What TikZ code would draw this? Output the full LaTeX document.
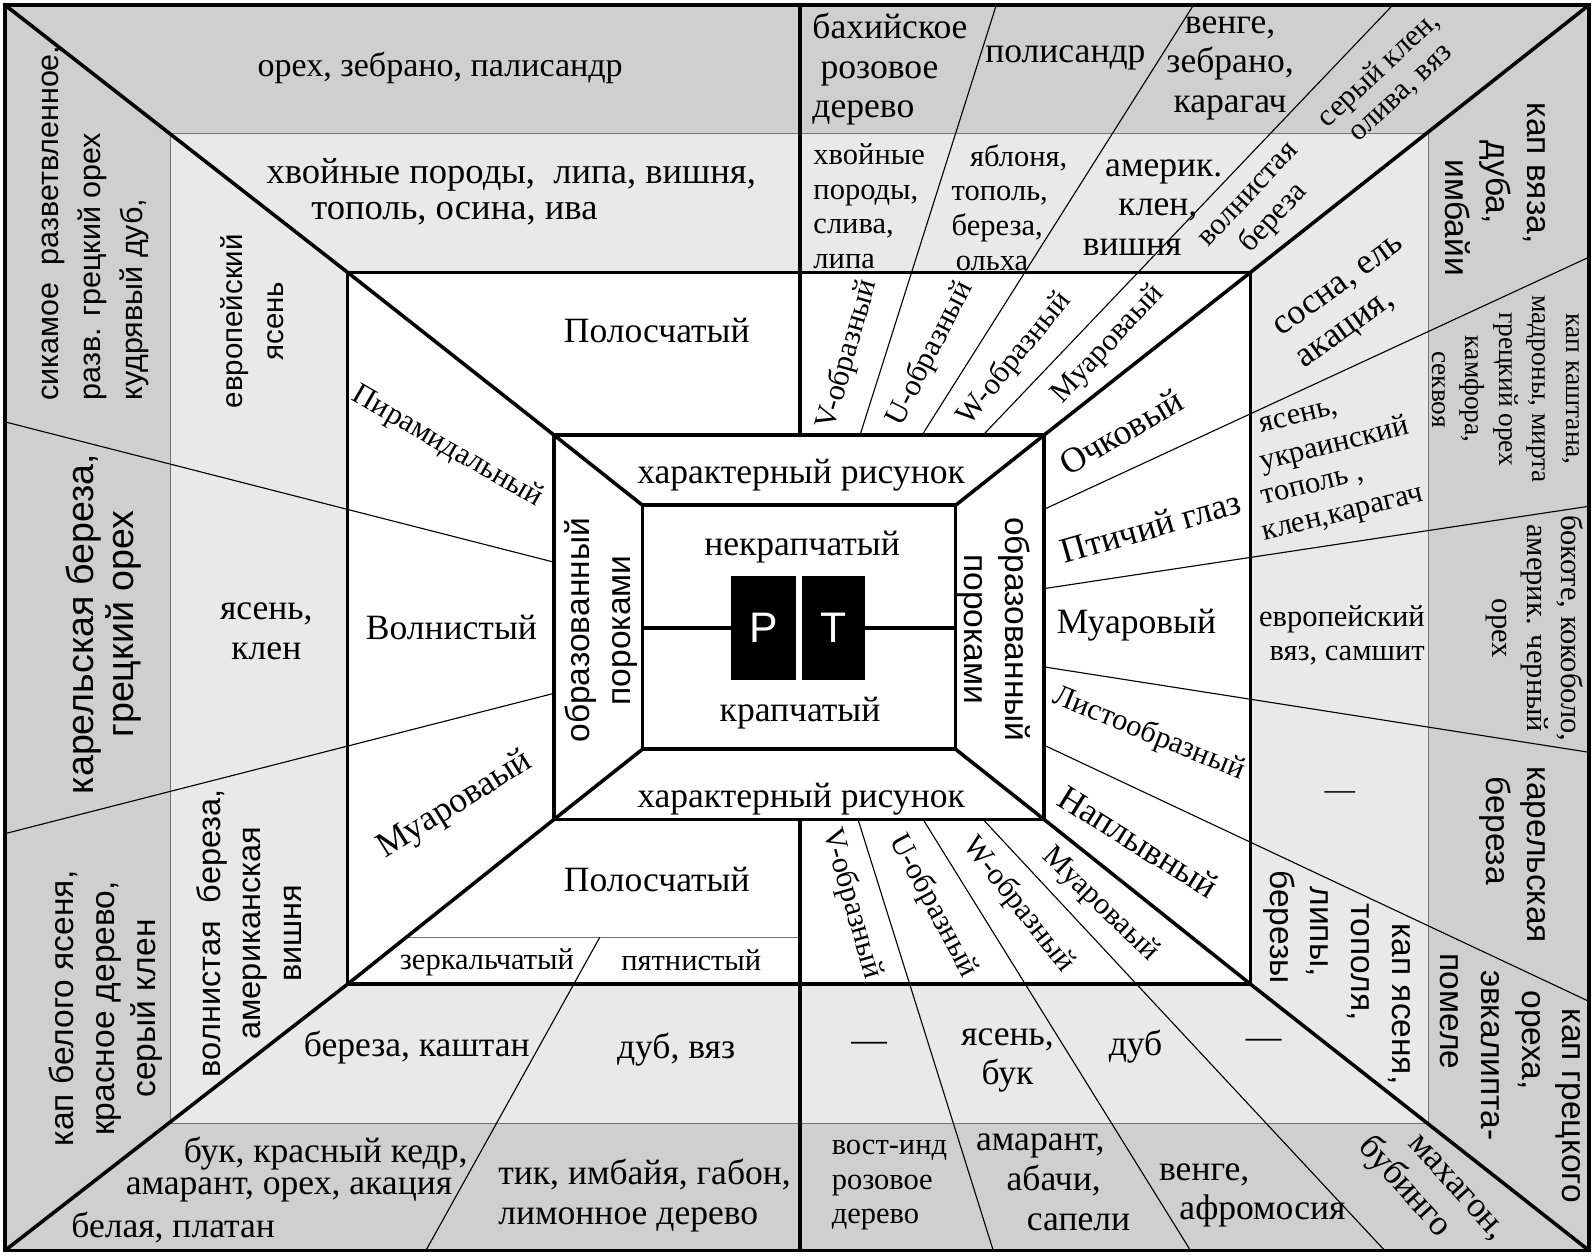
\documentclass[tikz,border=0pt]{standalone}
\usepackage{fontspec}
\setmainfont{Liberation Serif}
\newfontfamily\sansfnt{Liberation Sans}
\newcommand\fntB{\fontsize{35}{39}\selectfont}
\newcommand\fntM{\fontsize{30}{34}\selectfont}
\newcommand\fntS{\fontsize{27}{33}\selectfont}
\newcommand\fntSans{\sansfnt\fontsize{33}{40}\selectfont}
\newcommand\fntPT{\sansfnt\fontsize{42}{44}\selectfont}
\definecolor{bandDark}{RGB}{207,207,207}
\definecolor{bandLight}{RGB}{233,233,233}
\tikzset{
  heavy/.style={line width=3.5pt, line join=miter},
  fine/.style={line width=1.1pt},
  bandline/.style={line width=1.3pt, draw=black!55},
  lbl/.style={inner sep=0pt, align=center},
  ptbox/.style={fill=black, inner sep=0pt, minimum height=102pt, text=white, font=\fntPT}
}
\begin{document}
\begin{tikzpicture}[x=1pt,y=-1pt]
\useasboundingbox (0,0) rectangle (1568,1235);
% corners
\coordinate (O1) at (5,5);      \coordinate (O2) at (1563,5);
\coordinate (O3) at (1563,1230); \coordinate (O4) at (5,1230);
\coordinate (B1) at (168,131);  \coordinate (B2) at (1405,131);
\coordinate (B3) at (1405,1105); \coordinate (B4) at (168,1105);
\coordinate (M1) at (342,268);  \coordinate (M2) at (1230,268);
\coordinate (M3) at (1230,968); \coordinate (M4) at (342,968);
\coordinate (I1) at (545,428);  \coordinate (I2) at (1027,428);
\coordinate (I3) at (1027,806); \coordinate (I4) at (545,806);
\coordinate (C1) at (632,497);  \coordinate (C2) at (940,497);
\coordinate (C3) at (940,737);  \coordinate (C4) at (632,737);
% fills
\fill[bandDark] (O1) rectangle (O3);
\fill[bandLight] (B1) rectangle (B3);
\fill[white] (M1) rectangle (M3);
% band lines
\draw[bandline] (B1) -- (B2) -- (B3) -- (B4) -- cycle;
% fan lines top
\draw[fine] (846,428) -- (980,5);
\draw[fine] (907,428) -- (1174,5);
\draw[fine] (967,428) -- (1370,5);
% fan lines bottom
\draw[fine] (844,806) -- (977,1230);
\draw[fine] (908,806) -- (1171,1230);
\draw[fine] (967,806) -- (1362,1230);
% fan lines left
\draw[fine] (5,415) -- (545,553);
\draw[fine] (5,820) -- (545,682);
% fan lines right
\draw[fine] (1027,501) -- (1563,253);
\draw[fine] (1027,579) -- (1563,498);
\draw[fine] (1027,656) -- (1563,740);
\draw[fine] (1027,733) -- (1563,985);
% bottom-left small split
\draw[bandline] (400,922) -- (787,922);
\draw[fine] (590,922) -- (419,1230);

% ---------- texts ----------
% top outer band
\node[lbl,font={\fontsize{33.5}{39}\selectfont}] (t1) at (433,67) {орех, зебрано, палисандр};
\node[lbl,font=\fntB,align=left,anchor=west] (t2) at (799,68) {бахийское\\\hspace*{8pt}розовое\\дерево};
\node[lbl,font=\fntB] (t3) at (1048,57) {полисандр};
\node[lbl,font=\fntB] (t4) at (1210,67) {венге,\\зебрано,\\карагач};
\node[lbl,font={\fontsize{30}{31}\selectfont},rotate=43] (t5) at (1367,80) {серый клен,\\олива, вяз};
% top light band
\node[lbl,font={\fontsize{36}{40}\selectfont},anchor=west] (t6) at (262,172) {хвойные породы,\ \ липа, вишня,};
\node[lbl,font={\fontsize{36}{40}\selectfont},anchor=west] (t6b) at (306,210) {тополь, осина, ива};
\node[lbl,font=\fntM,align=left,anchor=west] (t7) at (800,203) {хвойные\\породы,\\слива,\\липа};
\node[lbl,font=\fntM,align=left,anchor=west] (t8) at (936,204) {\hspace*{18pt}яблоня,\\тополь,\\береза,\\\hspace*{4pt}ольха};
\node[lbl,font=\fntB,align=left,anchor=west] (t9) at (1065,204) {\hspace*{22pt}америк.\\\hspace*{35pt}клен,\\вишня};
\node[lbl,font=\fntM,rotate=47] (t10) at (1243,205) {волнистая\\береза};
% left bands
\node[lbl,font={\sansfnt\fontsize{30}{41}\selectfont},rotate=90,anchor=west,align=left] (l1) at (94,394) {сикамое\ \ разветвленное,\\разв. грецкий орех\\кудрявый дуб,};
\node[lbl,font={\sansfnt\fontsize{37}{40}\selectfont},rotate=90] (l2) at (102,614) {карельская береза,\\грецкий орех};
\node[lbl,font=\fntSans,rotate=90] (l3) at (104,992) {кап белого ясеня,\\красное дерево,\\серый клен};
\node[lbl,font={\sansfnt\fontsize{29}{40}\selectfont},rotate=90] (l4) at (248,316) {европейский\\ясень};
\node[lbl,font=\fntB] (l5) at (262,621) {ясень,\\клен};
\node[lbl,font={\sansfnt\fontsize{32}{40}\selectfont},rotate=90] (l6) at (245,918) {волнистая\ \ береза,\\американская\\вишня};
% middle rect
\node[lbl,font=\fntB] (m1) at (646,325) {Полосчатый};
\node[lbl,font=\fntM,rotate=-30] (m2) at (440,440) {Пирамидальный};
\node[lbl,font=\fntB] (m3) at (444,617) {Волнистый};
\node[lbl,font=\fntB,rotate=32] (m4) at (448,792) {Муароваый};
\node[lbl,font=\fntB] (m5) at (646,865) {Полосчатый};
\node[lbl,font=\fntM] (m6) at (479,947) {зеркальчатый};
\node[lbl,font=\fntM] (m7) at (680,945) {пятнистый};
\node[lbl,font=\fntM,rotate=74] (m8) at (834,349) {V-образный};
\node[lbl,font=\fntM,rotate=63] (m9) at (915,348) {U-образный};
\node[lbl,font=\fntM,rotate=51] (m10) at (998,353) {W-образный};
\node[lbl,font=\fntM,rotate=47] (m11) at (1090,339) {Муароваый};
\node[lbl,font=\fntB,rotate=30] (m12) at (1103,425) {Очковый};
\node[lbl,font=\fntB,rotate=16] (m13) at (1132,518) {Птичий глаз};
\node[lbl,font=\fntB] (m14) at (1118,615) {Муаровый};
\node[lbl,font=\fntM,rotate=-22] (m15) at (1130,722) {Листообразный};
\node[lbl,font=\fntB,rotate=-32] (m16) at (1120,828) {Наплывный};
\node[lbl,font=\fntM,rotate=-74] (m17) at (838,889) {V-образный};
\node[lbl,font=\fntM,rotate=-62] (m18) at (918,891) {U-образный};
\node[lbl,font=\fntM,rotate=-52] (m19) at (1002,890) {W-образный};
\node[lbl,font=\fntM,rotate=-44] (m20) at (1082,890) {Муароваый};
% inner rect
\node[lbl,font=\fntB] (i1) at (788,467) {характерный рисунок};
\node[lbl,font=\fntB] (i2) at (788,786) {характерный рисунок};
\node[lbl,font=\fntSans,rotate=90] (i3) at (591,620) {образованный\\пороками};
\node[lbl,font=\fntSans,rotate=-90] (i4) at (978,619) {образованный\\пороками};
\node[lbl,font=\fntB] (c1) at (789,538) {некрапчатый};
\node[lbl,font=\fntB] (c2) at (787,701) {крапчатый};
\node[ptbox,minimum width=64pt] (P) at (751,618) {Р};
\node[ptbox,minimum width=62pt] (T) at (820,618) {Т};
% right light band
\node[lbl,font=\fntB,rotate=36,align=left] (r1) at (1330,299) {сосна, ель\\акация,};
\node[lbl,font=\fntM,rotate=14,anchor=west] (r2a) at (1240,421) {ясень,};
\node[lbl,font=\fntM,rotate=14,anchor=west] (r2b) at (1240,456) {украинский};
\node[lbl,font=\fntM,rotate=14,anchor=west] (r2c) at (1242,492) {тополь ,};
\node[lbl,font=\fntM,rotate=14,anchor=west] (r2d) at (1243,528) {клен,карагач};
\node[lbl,font=\fntM,align=right] (r3) at (1320,625) {европейский\\вяз, самшит};
\node[lbl,font=\fntM] (r4) at (1318,783) {—};
\node[lbl,font=\fntSans,rotate=-90,anchor=west,align=left] (r5) at (1315,856) {\hspace*{52pt}кап ясеня,\\\hspace*{33pt}тополя,\\\hspace*{16pt}липы,\\березы};
% right dark band
\node[lbl,font=\fntSans,rotate=-90,anchor=west,align=left] (r6) at (1471,101) {кап вяза,\\\hspace*{37pt}дуба,\\\hspace*{56pt}имбайи};
\node[lbl,font=\fntS,rotate=-90] (r7) at (1481,383) {кап каштана,\\мадроны, мирта\\грецкий орех\\камфора,\\секвоя};
\node[lbl,font=\fntM,rotate=-90] (r8) at (1510,618) {бокоте, кокоболо,\\америк. черный\\орех};
\node[lbl,font=\fntSans,rotate=-90,anchor=west,align=left] (r9) at (1488,754) {карельская\\\hspace*{10pt}береза};
\node[lbl,font=\fntSans,rotate=-90,anchor=west,align=left] (r10) at (1486,938) {\hspace*{54pt}кап грецкого\\\hspace*{36pt}ореха,\\\hspace*{16pt}эвкалипта-\\помеле};
% bottom light band
\node[lbl,font=\fntB] (b1) at (410,1030) {береза, каштан};
\node[lbl,font=\fntB] (b2) at (665,1032) {дуб, вяз};
\node[lbl,font=\fntB] (b3) at (855,1030) {—};
\node[lbl,font=\fntB] (b4) at (991,1043) {ясень,\\бук};
\node[lbl,font=\fntB] (b5) at (1117,1030) {дуб};
\node[lbl,font=\fntB] (b6) at (1243,1027) {—};
% bottom dark band
\node[lbl,font=\fntB,anchor=east] (b7) at (460,1135) {бук, красный кедр,};
\node[lbl,font=\fntB,anchor=east] (b8) at (445,1170) {амарант, орех, акация};
\node[lbl,font=\fntB,anchor=west] (b9) at (70,1207) {белая, платан};
\node[lbl,font=\fntB,align=left,anchor=west] (b10) at (490,1176) {тик, имбайя, габон,\\лимонное дерево};
\node[lbl,font=\fntM,align=left,anchor=west] (b11) at (818,1166) {вост-инд\\розовое\\дерево};
\node[lbl,font=\fntB,align=left,anchor=west] (b12) at (960,1163) {амарант,\\\hspace*{30pt}абачи,\\\hspace*{50pt}сапели};
\node[lbl,font=\fntB,align=left,anchor=west] (b13) at (1140,1176) {венге,\\\hspace*{20pt}афромосия};
\node[lbl,font=\fntB,rotate=-48,align=left] (b14) at (1406,1172) {\hspace*{30pt}махагон,\\бубинго};

% ---------- heavy lines ----------
\draw[heavy] (O1) rectangle (O3);
\draw[heavy] (M1) rectangle (M3);
\draw[heavy] (I1) rectangle (I3);
\draw[heavy] (C1) rectangle (C3);
\draw[heavy] (O1) -- (M1) -- (I1) -- (C1);
\draw[heavy] (O2) -- (M2) -- (I2) -- (C2);
\draw[heavy] (O3) -- (M3) -- (I3) -- (C3);
\draw[heavy] (O4) -- (M4) -- (I4) -- (C4);
\draw[heavy] (787,5) -- (787,428);
\draw[heavy] (787,806) -- (787,1230);
\coordinate (CL) at (632,618); \coordinate (CR) at (940,618);
\draw[heavy] (CL) -- (P.west);
\draw[heavy] (T.east) -- (CR);
\end{tikzpicture}
\end{document}
